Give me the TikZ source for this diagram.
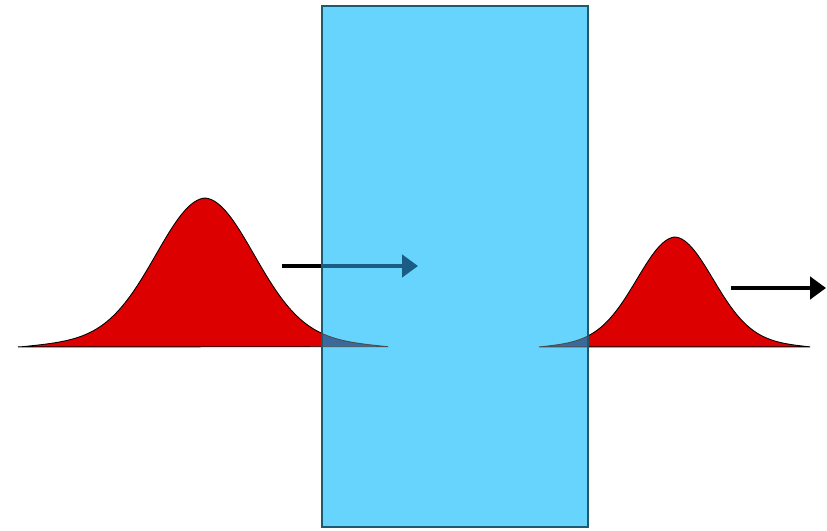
\documentclass[tikz,border=0pt]{standalone}
\usepackage{tikz}
\usetikzlibrary{arrows.meta}
\usepackage{xcolor}
\definecolor{pulsec}{HTML}{DD0000}
\definecolor{slabc}{HTML}{66D4FC}
\definecolor{edgec}{HTML}{1E5A6E}
\definecolor{tailc}{HTML}{3A6A9C}
\definecolor{beamc}{HTML}{1A5C84}

% pulse: style, start, end, peak x, height, sigma, shoulder, half range
\newcommand{\pulse}[8]{%
  \filldraw[#1] plot[domain=#2:#3, samples=160, smooth]
    (\x, {347 - #5*exp(-0.5*((\x-#4)/#6)^2) - #7*max(0,1-abs(\x-#4)/#8)}) -- cycle;}

\tikzset{
  pulse/.style={fill=pulsec, draw=black, line width=0.5pt},
  inside/.style={fill=tailc, draw=black!70, line width=0.5pt},
  slab/.style={fill=slabc, draw=edgec, line width=0.9pt},
  beam/.style={line width=2.8pt, -{Triangle[length=9pt,width=12.5pt]}}
}

\begin{document}
\begin{tikzpicture}[x=0.02cm, y=-0.02cm]
  \useasboundingbox (0,0) rectangle (827,530);
  \coordinate (inA) at (282,266);
  \coordinate (inB) at (418,266);
  \coordinate (outA) at (731,288);
  \coordinate (outB) at (826,288);
  % incoming and outgoing pulses
  \pulse{pulse}{18}{388}{205}{133}{49}{16}{185}
  \pulse{pulse}{539}{810}{675}{99}{38}{11}{135}
  \draw[beam, black] (inA) -- (inB);
  % the slab
  \fill[slabc] (322,6) rectangle (588,527);
  \begin{scope}
    \clip (322,6) rectangle (588,527);
    \pulse{inside}{18}{388}{205}{133}{49}{16}{185}
    \pulse{inside}{539}{810}{675}{99}{38}{11}{135}
    \draw[beam, beamc] (inA) -- (inB);
  \end{scope}
  \draw[slab, fill=none] (322,6) rectangle (588,527);
  \draw[beam, black] (outA) -- (outB);
\end{tikzpicture}
\end{document}
